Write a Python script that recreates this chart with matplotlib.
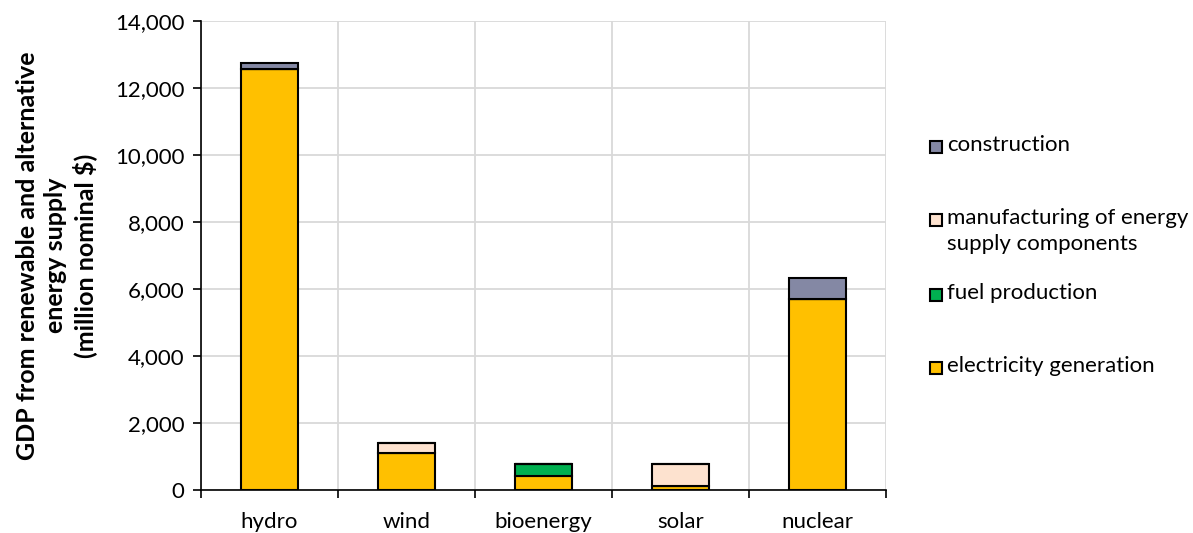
import matplotlib.pyplot as plt
from matplotlib.patches import Rectangle
from matplotlib.ticker import FuncFormatter, MultipleLocator, FixedLocator

plt.rcParams['font.family'] = ['Lato', 'DejaVu Sans']

categories = ["hydro", "wind", "bioenergy", "solar", "nuclear"]
electricity_generation = [12570, 1100, 410, 120, 5710]
fuel_production = [0, 0, 360, 0, 0]
manufacturing = [0, 290, 0, 665, 0]
construction = [190, 0, 0, 0, 610]

series = [
    ("electricity generation", electricity_generation, "#FFC000"),
    ("fuel production", fuel_production, "#00B050"),
    ("manufacturing of energy\nsupply components", manufacturing, "#FDE2CF"),
    ("construction", construction, "#8488A4"),
]

W, H = 1193, 533
fig = plt.figure(figsize=(W / 100, H / 100), dpi=100)
ax = fig.add_axes([201 / W, 43 / H, 685 / W, 469 / H])

x = list(range(len(categories)))
bottom = [0] * len(categories)
for name, vals, color in series:
    ax.bar(x, vals, width=0.41, bottom=bottom, color=color,
           edgecolor="black", linewidth=1.5, zorder=3)
    bottom = [b + v for b, v in zip(bottom, vals)]

ax.set_xlim(-0.5, len(categories) - 0.5)
ax.set_ylim(0, 14000)
ax.yaxis.set_major_locator(MultipleLocator(2000))
ax.yaxis.set_major_formatter(FuncFormatter(lambda v, p: f"{v:,.0f}"))

ax.set_xticks(x)
ax.set_xticklabels(categories)
ax.xaxis.set_minor_locator(FixedLocator([i - 0.5 for i in range(len(categories) + 1)]))
ax.tick_params(axis="x", which="major", length=0, pad=16, labelsize=16)
ax.tick_params(axis="x", which="minor", length=6, width=1.2, direction="out", color="black")
ax.tick_params(axis="y", length=6, width=1.2, color="black", labelsize=16, pad=6)

ax.grid(axis="y", which="major", color="#d9d9d9", linewidth=1.3, zorder=0)
ax.grid(axis="x", which="minor", color="#d9d9d9", linewidth=1.3, zorder=0)

for side in ("top", "right"):
    ax.spines[side].set_visible(False)
for side in ("left", "bottom"):
    ax.spines[side].set_color("black")
    ax.spines[side].set_linewidth(1.2)
    ax.spines[side].set_zorder(4)

ax.set_ylabel("GDP from renewable and alternative\nenergy supply\n(million nominal $)",
              fontsize=18, fontweight="bold", linespacing=1.25)
ax.yaxis.set_label_coords(-0.152, 0.5)

# legend entries, top to bottom: construction, manufacturing, fuel, electricity
legend_rows = [147, 220, 295, 368]
for (name, vals, color), ypix in zip(reversed(series), legend_rows):
    yf = 1 - ypix / H
    fig.patches.append(Rectangle((930 / W, yf - 6 / H), 12 / W, 12 / H,
                                 transform=fig.transFigure, facecolor=color,
                                 edgecolor="black", linewidth=1.5))
    fig.text(947 / W, yf + 12 / H, name, fontsize=16, va="top", ha="left",
             linespacing=1.38)

fig.savefig("out.png", dpi=100)
